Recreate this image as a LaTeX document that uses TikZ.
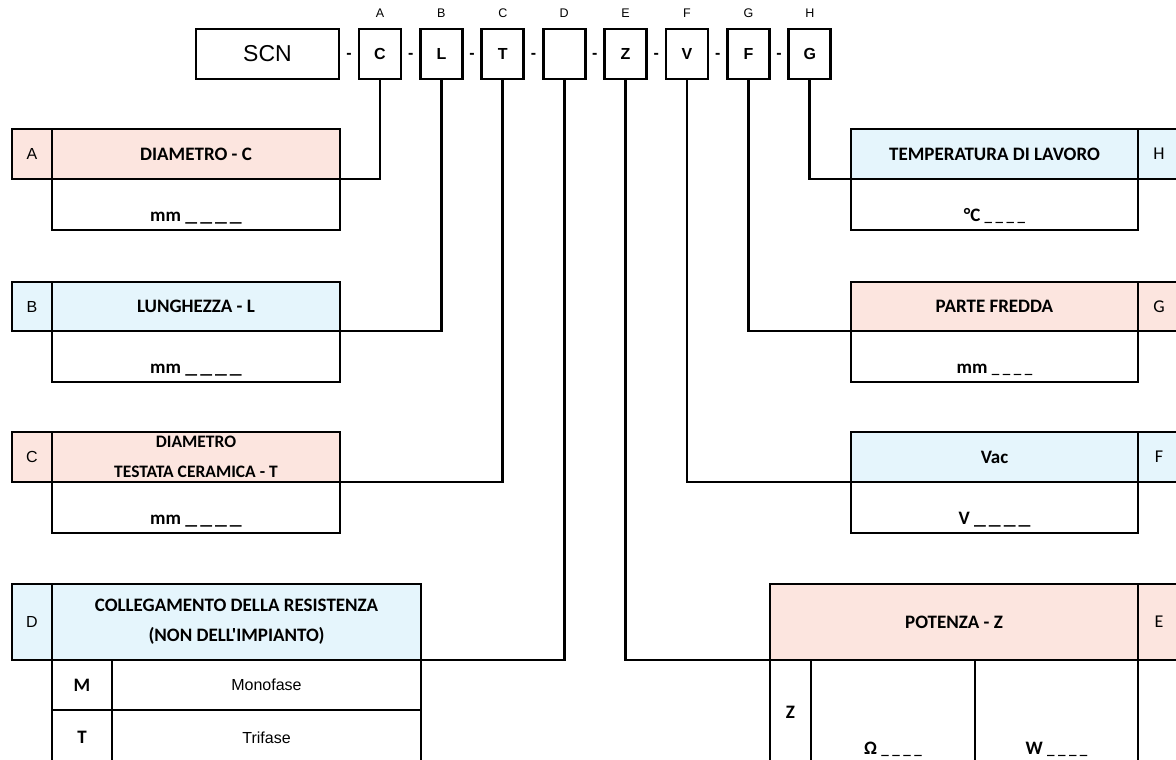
\documentclass[tikz,border=0pt]{standalone}
\usepackage{fontspec}
\setmainfont{Carlito}[Ligatures=TeXOff]
\newfontfamily\arialfont{Liberation Sans}
\definecolor{hdrpink}{RGB}{252,229,223}
\definecolor{hdrblue}{RGB}{229,245,252}
% cell from corner (#3,#4) to corner (#5,#6)
\newcommand\tcell[7]{%
  \node[cell,#1,minimum width={((#5)-(#3))*1pt},minimum height={((#6)-(#4))*1pt}]
    (#2) at ({((#3)+(#5))/2},{((#4)+(#6))/2}) {#7};}
% blanks to fill in: long and short underscores
\newcommand\longblanks{\scalebox{1.25}[1]{\_}\hspace{3pt}\scalebox{1.25}[1]{\_}\hspace{3pt}\scalebox{1.25}[1]{\_}\hspace{3pt}\scalebox{1.25}[1]{\_}}
\newcommand\shortblanks{{\fontsize{15}{15}\selectfont\_\hspace{3.5pt}\_\hspace{3.5pt}\_\hspace{3.5pt}\_}}
\begin{document}
\begin{tikzpicture}[x=1pt,y=-1pt,
  cell/.style={draw=black, line width=2.8pt, inner sep=0pt, outer sep=0pt,
    rectangle, align=center, font=\fontsize{19}{30}\selectfont\bfseries},
  code/.style={font=\arialfont\fontsize{16}{16}\selectfont\bfseries},
  toplabel/.style={inner sep=0pt, font=\arialfont\fontsize{12.5}{12.5}\selectfont},
  dashmark/.style={inner sep=0pt, font=\arialfont\fontsize{16}{16}\selectfont\bfseries},
  letter/.style={font=\arialfont\fontsize{16}{16}\selectfont},
  rletter/.style={font=\fontsize{18}{18}\selectfont},
  valtext/.style={inner sep=0pt, anchor=base, font=\fontsize{19}{19}\selectfont\bfseries},
  conn/.style={draw=black, line width=2.8pt},
  pink/.style={fill=hdrpink},
  blue/.style={fill=hdrblue}]
\clip (0,0) rectangle (1176,760);

% ---- code row ----
\tcell{font=\arialfont\fontsize{23}{23}\selectfont}{bS}{196}{29}{339}{79}{SCN}
\foreach \n/\x/\c/\l in {C/380/C/A, L/441.4/L/B, T/502.8/T/C, D/564.2//D,
    Z/625.6/Z/E, V/687/V/F, F/748.4/F/G, G/809.8/G/H} {
  \tcell{code}{b\n}{\x-21}{29}{\x+21}{79}{\c}
  \node[toplabel] (l\l) at (\x,13) {\l};
}
\foreach \i/\x in {1/349, 2/410.7, 3/472.1, 4/533.5, 5/594.9, 6/656.3, 7/717.7, 8/779.1}
  \node[dashmark] (d\i) at (\x,56) {-};

% ---- left tables ----
\tcell{pink,letter}{kA}{12}{129}{52}{179}{A}
\tcell{pink}{tA}{52}{129}{340}{179}{DIAMETRO - C}
\tcell{}{vA}{52}{179}{340}{230}{}
\node[valtext] (xA) at (196,221.5) {mm \longblanks};

\tcell{blue,letter}{kB}{12}{282}{52}{331}{B}
\tcell{blue}{tB}{52}{282}{340}{331}{LUNGHEZZA - L}
\tcell{}{vB}{52}{331}{340}{382}{}
\node[valtext] (xB) at (196,373.5) {mm \longblanks};

\tcell{pink,letter}{kC}{12}{432}{52}{482}{C}
\tcell{pink,font=\fontsize{17.5}{30}\selectfont\bfseries}{tC}{52}{432}{340}{482}{DIAMETRO\\TESTATA CERAMICA - T}
\tcell{}{vC}{52}{482}{340}{533}{}
\node[valtext] (xC) at (196,524.5) {mm \longblanks};

\tcell{blue,letter}{kD}{12}{584}{52}{660}{D}
\tcell{blue}{tD}{52}{584}{421}{660}{COLLEGAMENTO DELLA RESISTENZA\\(NON DELL'IMPIANTO)}
\tcell{}{mD1}{52}{660}{112}{710}{M}
\tcell{font=\arialfont\fontsize{16}{16}\selectfont}{nD1}{112}{660}{421}{710}{Monofase}
\tcell{}{mD2}{52}{710}{112}{765}{T}
\tcell{font=\arialfont\fontsize{16}{16}\selectfont}{nD2}{112}{710}{421}{765}{Trifase}

% ---- right tables ----
\tcell{blue}{tH}{851}{129}{1138}{179}{TEMPERATURA DI LAVORO}
\tcell{blue,rletter}{kH}{1138}{129}{1180}{179}{H}
\tcell{}{vH}{851}{179}{1138}{230}{}
\node[valtext] (xH) at (994.5,221.5) {°C \shortblanks};

\tcell{pink}{tG}{851}{282}{1138}{331}{PARTE FREDDA}
\tcell{pink,rletter}{kG}{1138}{282}{1180}{331}{G}
\tcell{}{vG}{851}{331}{1138}{382}{}
\node[valtext] (xG) at (994.5,373.5) {mm \shortblanks};

\tcell{blue}{tF}{851}{432}{1138}{482}{Vac}
\tcell{blue,rletter}{kF}{1138}{432}{1180}{482}{F}
\tcell{}{vF}{851}{482}{1138}{533}{}
\node[valtext] (xF) at (994.5,524.5) {V \longblanks};

\tcell{pink}{tE}{770}{584}{1138}{660}{POTENZA - Z}
\tcell{pink,rletter}{kE}{1138}{584}{1180}{660}{E}
\tcell{}{zE}{770}{660}{811}{765}{Z}
\tcell{}{oE}{811}{660}{975}{765}{}
\tcell{}{wE}{975}{660}{1138}{765}{}
\tcell{}{rE}{1138}{660}{1180}{765}{}
\node[valtext] (xO) at (893,754) {Ω \shortblanks};
\node[valtext] (xW) at (1056.5,754) {W \shortblanks};

% ---- connectors ----
\draw[conn] (bC.south) |- (tA.south east);
\draw[conn] (bL.south) |- (tB.south east);
\draw[conn] (bT.south) |- (tC.south east);
\draw[conn] (bD.south) |- (tD.south east);
\draw[conn] (bZ.south) |- (tE.south west);
\draw[conn] (bV.south) |- (tF.south west);
\draw[conn] (bF.south) |- (tG.south west);
\draw[conn] (bG.south) |- (tH.south west);
\end{tikzpicture}
\end{document}
